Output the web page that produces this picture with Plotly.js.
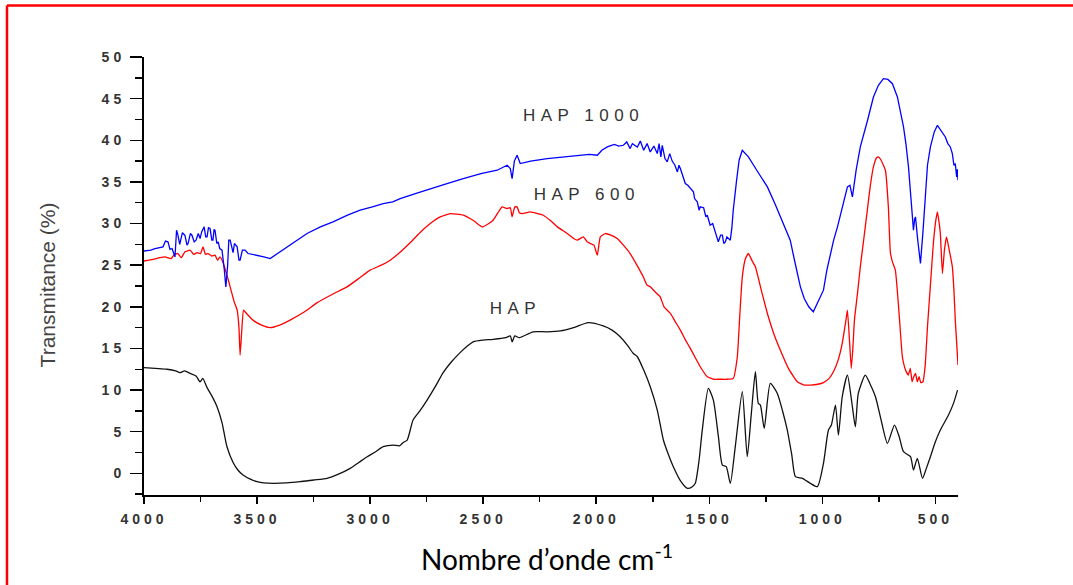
<!DOCTYPE html>
<html>
<head>
<meta charset="utf-8">
<script src="https://cdn.plot.ly/plotly-3.0.1.min.js"></script>
<style>
  html, body { margin: 0; padding: 0; background: #fff; }
  #chart { width: 1073px; height: 585px; }
  .xtick text, .ytick text { letter-spacing: 4px; }
  .annotation[data-index="0"] text,
  .annotation[data-index="1"] text,
  .annotation[data-index="2"] text { letter-spacing: 5.5px; }
</style>
</head>
<body>
<div id="chart"></div>
<script>
// ---- Data ----
const hapWn = [4000,3950,3898,3860,3841,3820,3796,3770,3752,3740,3721,3700,3677,3655,3633,3606,3585,3562,3530,3500,3470,3429,3370,3310,3250,3190,3140,3088,3050,3013,2975,2942,2898,2870,2854,2836,2810,2780,2748,2710,2677,2640,2602,2570,2544,2500,2456,2400,2380,2372,2360,2340,2279,2220,2159,2100,2035,1969,1930,1894,1860,1836,1818,1790,1761,1730,1703,1680,1659,1625,1597,1575,1562,1545,1531,1504,1482,1460,1442,1425,1407,1385,1354,1332,1314,1296,1283,1274,1257,1230,1199,1175,1155,1135,1119,1088,1053,1022,995,973,960,942,929,912,889,870,854,841,810,790,765,740,712,681,660,641,610,597,580,557,540,522,500,478,442,420,402];
const hapT  = [12.7,12.6,12.5,12.3,12.1,12.3,12.0,11.7,11.0,11.4,10.3,9.3,8.0,6.1,3.2,1.3,0.4,-0.2,-0.7,-1.0,-1.15,-1.2,-1.15,-1.0,-0.8,-0.6,-0.1,0.6,1.3,2.0,2.6,3.2,3.4,3.3,3.7,4.0,6.4,7.5,8.8,10.5,12.1,13.4,14.5,15.3,15.8,16.0,16.1,16.3,16.5,15.8,16.5,16.3,17.0,17.0,17.1,17.5,18.1,17.7,17.2,16.4,15.3,14.4,14.0,12.4,10.4,7.6,4.0,2.2,0.8,-1.0,-1.8,-1.6,-1.2,1.6,5.2,10.2,8.8,4.5,1.0,0.8,-1.2,3.2,9.8,2.0,7.2,12.2,8.4,8.2,5.4,10.8,9.6,7.4,5.2,2.2,-0.4,-0.6,-1.2,-1.6,1.2,5.2,5.8,8.2,4.6,9.2,11.8,8.6,5.6,9.6,11.8,10.8,9.2,6.4,3.6,5.8,4.4,2.6,2.0,0.4,1.8,-0.6,0.6,2.0,3.8,5.2,7.0,8.4,10.0];

const hap600Wn = [4000,3960,3930,3907,3880,3865,3850,3835,3819,3796,3780,3765,3750,3739,3728,3717,3700,3686,3675,3664,3650,3642,3630,3619,3600,3588,3580,3575,3568,3560,3553,3518,3480,3442,3400,3354,3290,3234,3160,3102,3050,3000,2950,2911,2870,2823,2780,2734,2690,2646,2588,2540,2504,2475,2456,2430,2416,2395,2380,2372,2360,2350,2340,2327,2292,2260,2234,2200,2172,2128,2100,2084,2057,2040,2026,2010,1995,1982,1960,1935,1907,1880,1850,1820,1792,1775,1761,1740,1717,1700,1672,1650,1628,1605,1584,1560,1540,1509,1480,1451,1420,1394,1376,1365,1354,1340,1327,1310,1296,1270,1243,1215,1186,1150,1111,1080,1053,1020,995,970,951,930,912,895,889,880,872,865,858,845,832,815,801,788,774,760,752,740,721,708,699,690,677,660,646,632,620,611,603,597,588,580,572,565,555,545,535,522,509,498,491,484,478,469,460,451,440,425,418,412,400];
const hap600T  = [25.5,25.7,25.9,26.0,25.8,26.3,26.4,25.9,26.6,26.8,26.3,26.5,26.4,27.2,26.3,26.4,26.1,26.2,25.6,26.0,25.3,24.6,23.5,22.4,20.5,19.6,17.5,14.2,17.0,19.6,19.4,18.4,17.8,17.5,17.8,18.4,19.4,20.5,21.6,22.4,23.4,24.4,25.0,25.6,26.5,27.7,28.9,30.0,30.8,31.2,31.0,30.3,29.6,30.0,30.4,31.5,32.0,31.8,31.9,30.8,32.0,32.0,31.3,31.2,31.4,31.2,31.0,30.3,29.6,28.8,28.2,28.0,28.4,27.8,27.6,27.4,26.2,28.4,28.8,28.6,28.2,27.4,26.4,25.0,23.6,22.6,22.4,21.8,21.2,20.0,19.2,18.2,17.2,16.0,15.0,13.8,12.8,11.6,11.3,11.3,11.3,11.4,14.0,19.0,23.6,25.8,26.4,25.5,24.8,22.0,19.2,16.8,14.8,12.6,11.0,10.6,10.6,10.7,10.9,11.4,12.2,13.6,15.6,18.5,19.6,16.0,12.6,15.0,18.4,21.5,24.8,28.5,31.6,34.5,36.8,37.9,38.0,37.6,36.4,32.0,26.5,25.4,24.4,19.0,14.0,12.4,11.8,12.6,11.0,11.5,12.0,11.0,11.6,10.9,11.0,13.0,17.6,22.6,27.6,30.4,31.4,30.2,28.8,24.0,26.8,28.4,27.0,24.8,22.0,18.4,13.0];

const hap1000Wn = [4000,3970,3951,3930,3916,3905,3894,3885,3876,3863,3856,3850,3842,3830,3819,3810,3805,3795,3788,3778,3770,3760,3752,3745,3734,3727,3721,3715,3708,3700,3695,3690,3686,3678,3672,3665,3655,3645,3638,3630,3625,3619,3612,3606,3600,3588,3580,3575,3565,3553,3540,3520,3500,3470,3442,3410,3367,3320,3279,3220,3164,3100,3044,2990,2942,2900,2867,2800,2734,2660,2588,2510,2438,2394,2380,2372,2362,2350,2336,2290,2217,2140,2071,2030,1995,1975,1951,1920,1900,1880,1865,1850,1840,1818,1805,1790,1775,1761,1745,1730,1722,1714,1708,1696,1686,1675,1664,1652,1641,1634,1628,1617,1606,1595,1584,1570,1565,1553,1545,1540,1525,1515,1509,1496,1485,1473,1465,1460,1450,1442,1436,1429,1422,1416,1407,1400,1394,1380,1368,1354,1340,1327,1290,1243,1210,1186,1160,1142,1120,1097,1080,1060,1040,1020,995,980,964,950,933,910,889,878,867,850,832,800,774,752,730,710,690,668,655,641,630,619,608,597,592,588,578,566,555,544,535,522,505,491,470,456,445,434,425,418,412,406,403,400];
const hap1000T  = [26.7,26.8,27.0,27.1,27.2,27.9,27.8,26.9,27.0,26.0,29.2,28.6,27.5,28.9,28.6,27.4,27.6,28.8,28.6,27.8,28.0,28.8,28.2,29.0,29.6,28.4,28.4,29.5,29.4,28.0,28.0,29.3,29.2,27.6,27.8,27.0,26.8,24.5,22.4,25.0,28.0,28.0,27.0,26.5,27.6,27.2,25.6,25.6,26.8,26.8,26.4,26.3,26.2,26.0,25.8,26.4,27.2,28.0,28.8,29.6,30.2,31.0,31.6,32.0,32.4,32.6,33.0,33.6,34.2,34.8,35.4,36.0,36.4,37.0,36.6,35.4,37.5,38.2,37.2,37.5,37.8,38.0,38.2,38.3,38.2,38.8,39.2,39.5,39.3,39.4,39.8,39.0,39.6,39.2,39.9,38.8,39.6,38.6,39.3,38.4,39.6,38.0,39.4,37.8,37.4,38.4,37.5,37.0,36.2,37.0,36.6,35.6,34.8,34.6,34.2,33.8,33.0,32.6,31.6,32.0,31.9,30.8,31.0,29.8,30.0,29.0,28.4,27.8,28.6,28.6,27.6,27.8,28.4,28.2,28.0,29.5,31.6,35.0,37.6,38.8,38.4,38.0,36.4,34.4,32.4,30.8,29.2,28.0,25.2,22.4,21.0,20.0,19.4,20.6,22.0,24.4,26.4,28.0,29.6,32.0,34.4,34.6,33.2,36.5,39.2,42.4,45.2,46.6,47.4,47.3,46.8,45.2,43.6,41.6,39.5,36.8,33.0,29.2,30.5,30.8,28.0,25.2,29.0,33.6,37.0,39.2,41.0,41.8,41.0,40.4,39.6,39.2,38.4,37.0,37.2,35.6,36.5,35.2];

const seriesNames = ['HAP', 'HAP 600', 'HAP 1000'];
const seriesColors = ['#111111', '#ff0000', '#0000ff'];
const xTickVals = [4000, 3500, 3000, 2500, 2000, 1500, 1000, 500];
const yTickVals = [0, 5, 10, 15, 20, 25, 30, 35, 40, 45, 50];
const labelPos = { 'HAP 1000': [2058, 43.0], 'HAP 600': [2040, 33.5], 'HAP': [2358, 19.75] };

const traces = [
  {x: hapWn, y: hapT, name: seriesNames[0], line: {color: seriesColors[0], width: 1.3, shape: 'spline', smoothing: 0.6}},
  {x: hap600Wn, y: hap600T, name: seriesNames[1], line: {color: seriesColors[1], width: 1.3, shape: 'spline', smoothing: 0.4}},
  {x: hap1000Wn, y: hap1000T, name: seriesNames[2], line: {color: seriesColors[2], width: 1.3}}
].map(t => Object.assign({type: 'scatter', mode: 'lines', hoverinfo: 'skip'}, t));

const tickFont = {family: 'Liberation Sans, Arial, sans-serif', size: 14, color: '#333', weight: 'bold'};
const labelFont = {family: 'Liberation Sans, Arial, sans-serif', size: 17, color: '#333'};

const layout = {
  width: 1073, height: 585,
  margin: {l: 144, r: 115, t: 57, b: 90},
  paper_bgcolor: '#fff', plot_bgcolor: '#fff',
  showlegend: false,
  xaxis: {
    range: [4000, 400], tickvals: xTickVals, ticktext: xTickVals.map(String),
    showgrid: false, zeroline: false, showline: true, linecolor: '#000', linewidth: 2,
    ticks: 'outside', ticklen: 7, tickwidth: 1.5, tickcolor: '#000',
    minor: {dtick: 250, tick0: 0, ticks: 'outside', ticklen: 5, tickwidth: 1.5, tickcolor: '#000', showgrid: false},
    tickfont: tickFont, ticklabelstandoff: 3
  },
  yaxis: {
    range: [-2.6, 50], tickvals: yTickVals, ticktext: yTickVals.map(String),
    showgrid: false, zeroline: false, showline: true, linecolor: '#000', linewidth: 2,
    ticks: 'outside', ticklen: 12, tickwidth: 1.5, tickcolor: '#000',
    minor: {dtick: 2.5, tick0: 0, ticks: 'outside', ticklen: 7, tickwidth: 1.5, tickcolor: '#000', showgrid: false},
    tickfont: tickFont, ticklabelstandoff: 2
  },
  annotations: [
    {text: 'HAP 1000', x: labelPos['HAP 1000'][0], y: labelPos['HAP 1000'][1], xref: 'x', yref: 'y', showarrow: false, font: labelFont},
    {text: 'HAP 600', x: labelPos['HAP 600'][0], y: labelPos['HAP 600'][1], xref: 'x', yref: 'y', showarrow: false, font: labelFont},
    {text: 'HAP', x: labelPos['HAP'][0], y: labelPos['HAP'][1], xref: 'x', yref: 'y', showarrow: false, font: labelFont},
    {text: 'Nombre d’onde cm<sup>-1</sup>', xref: 'paper', yref: 'paper', x: 0.495, y: -0.19, showarrow: false,
     font: {family: 'Lato, Carlito, sans-serif', size: 28, color: '#000'}},
    {text: 'Transmitance (%)', xref: 'paper', yref: 'paper', x: -0.134, y: 0.4795, textangle: -90, showarrow: false,
     font: {family: 'Liberation Sans, Arial, sans-serif', size: 21, color: '#444'}}
  ],
  shapes: [
    {type: 'line', xref: 'paper', yref: 'paper', x0: -0.1683, x1: 1.16, y0: 1.1175, y1: 1.1175, line: {color: '#ff0000', width: 2.5}},
    {type: 'line', xref: 'paper', yref: 'paper', x0: -0.1683, x1: -0.1683, y0: 1.1175, y1: -0.25, line: {color: '#ff0000', width: 2.5}}
  ]
};

Plotly.newPlot('chart', traces, layout, {displayModeBar: false, staticPlot: true});
</script>
</body>
</html>
